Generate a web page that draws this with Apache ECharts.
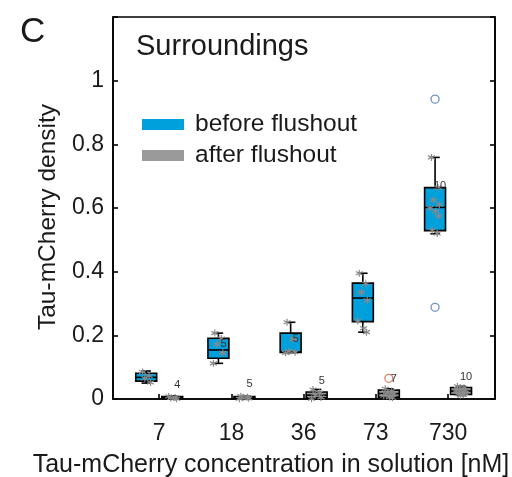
<!DOCTYPE html>
<html>
<head>
<meta charset="utf-8">
<script src="https://cdn.jsdelivr.net/npm/echarts@6/dist/echarts.min.js"></script>
<style>
  html, body { margin: 0; padding: 0; background: #fff; }
  #main { width: 512px; height: 477px; }
</style>
</head>
<body>
<div id="main"></div>
<script>
// Категории (концентрация, нМ)
const categories = ["7", "18", "36", "73", "730"];

// Статистика ящиков: [min, q1, median, q3, max]
const beforeBox = [
  [0.050, 0.056, 0.068, 0.081, 0.088],
  [0.112, 0.128, 0.154, 0.191, 0.207],
  [0.146, 0.146, 0.148, 0.207, 0.241],
  [0.210, 0.243, 0.317, 0.364, 0.395],
  [0.519, 0.529, 0.602, 0.664, 0.759],
];
const afterBox = [
  [0.000, 0.002, 0.005, 0.008, 0.010],
  [0.001, 0.002, 0.005, 0.008, 0.009],
  [0.000, 0.004, 0.012, 0.022, 0.030],
  [0.004, 0.006, 0.017, 0.028, 0.032],
  [0.012, 0.014, 0.025, 0.036, 0.040],
];

// Отдельные измерения
const beforePoints = [
  [0.085, 0.072, 0.065, 0.052],
  [0.207, 0.190, 0.172, 0.145, 0.112],
  [0.241, 0.188, 0.150, 0.147, 0.145],
  [0.395, 0.362, 0.335, 0.310, 0.245, 0.222, 0.210],
  [0.759, 0.664, 0.625, 0.610, 0.600, 0.590, 0.575, 0.530, 0.520],
];
const afterPoints = [
  [0.008, 0.005, 0.003, 0.001],
  [0.009, 0.006, 0.004, 0.002, 0.001],
  [0.030, 0.020, 0.012, 0.005, 0.001],
  [0.032, 0.025, 0.020, 0.015, 0.010, 0.006, 0.004],
  [0.040, 0.035, 0.030, 0.027, 0.025, 0.022, 0.018, 0.015, 0.013, 0.012],
];

// Выбросы
const beforeOutliers = [[], [], [], [], [0.942, 0.288]];
const afterOutliers = [[], [], [], [0.065], []];

// Подписи n
const beforeN = [null, 5, 5, null, 10];
const beforeNY = [null, 0.172, 0.19, null, 0.668];
const afterN = [4, 5, 5, 7, 10];
const afterNY = [0.044, 0.047, 0.057, 0.063, 0.069];

const yTicks = [0, 0.2, 0.4, 0.6, 0.8, 1];

const colors = {
  before: "#00a0dc",
  after: "#9a9a9a",
  point: "#8a8a8a",
  outBefore: "#4a78b8",
  outAfter: "#d0643a",
  text: "#1a1a1a",
};

const SIDE = 0.18;
const BOX_W = 0.29;
const FONT = "Liberation Sans, Arial, sans-serif";

const jit = [-0.05, 0.04, -0.02, 0.06, -0.07, 0.01, 0.05, -0.04, 0.03, -0.01];

function boxData(stats, side) {
  return stats.map((s, i) => [i + 1 + side, ...s]);
}
function pointData(pts, side) {
  let out = [];
  pts.forEach((arr, i) =>
    arr.forEach((v, j) => out.push([i + 1 + side + jit[j % jit.length], v]))
  );
  return out;
}
function outlierData(pts, side) {
  let out = [];
  pts.forEach((arr, i) => arr.forEach((v) => out.push([i + 1 + side, v])));
  return out;
}
function labelData(ns, ys, side) {
  let out = [];
  ns.forEach((n, i) => {
    if (n != null) out.push([i + 1 + side + 0.07, ys[i], n]);
  });
  return out;
}

function renderBox(fill) {
  return function (params, api) {
    const x = api.value(0);
    const pMin = api.coord([x, api.value(1)]);
    const pQ1 = api.coord([x, api.value(2)]);
    const pMed = api.coord([x, api.value(3)]);
    const pQ3 = api.coord([x, api.value(4)]);
    const pMax = api.coord([x, api.value(5)]);
    const half = api.size([BOX_W, 0])[0] / 2;
    const cap = half * 0.45;
    const cx = pQ1[0];
    const ln = { stroke: "#000", lineWidth: 1.6 };
    return {
      type: "group",
      children: [
        { type: "line", shape: { x1: cx, y1: pQ3[1], x2: cx, y2: pMax[1] }, style: ln },
        { type: "line", shape: { x1: cx, y1: pQ1[1], x2: cx, y2: pMin[1] }, style: ln },
        { type: "line", shape: { x1: cx - cap, y1: pMax[1], x2: cx + cap, y2: pMax[1] }, style: ln },
        { type: "line", shape: { x1: cx - cap, y1: pMin[1], x2: cx + cap, y2: pMin[1] }, style: ln },
        {
          type: "rect",
          shape: { x: cx - half, y: pQ3[1], width: half * 2, height: Math.max(pQ1[1] - pQ3[1], 1) },
          style: { fill: fill, stroke: "#000", lineWidth: 1.6 },
        },
        { type: "line", shape: { x1: cx - half, y1: pMed[1], x2: cx + half, y2: pMed[1] }, style: ln },
      ],
    };
  };
}

function renderLabel(params, api) {
  const p = api.coord([api.value(0), api.value(1)]);
  return {
    type: "text",
    x: p[0],
    y: p[1],
    style: {
      text: String(api.value(2)),
      fill: "#333",
      font: "11px " + FONT,
      align: "center",
      verticalAlign: "middle",
    },
  };
}

const star = "path://M5,0L5,10M0.7,2.5L9.3,7.5M0.7,7.5L9.3,2.5";

let myChart = echarts.init(document.getElementById("main"));

let option = {
  animation: false,
  textStyle: { fontFamily: FONT },
  title: [
    { text: "C", left: 15, top: 10, textStyle: { fontSize: 35, fontWeight: "normal", color: colors.text, fontFamily: FONT } },
    { text: "Surroundings", left: 131, top: 27, textStyle: { fontSize: 29, fontWeight: "normal", color: colors.text, fontFamily: FONT } },
  ],
  legend: {
    data: ["before flushout", "after flushout"],
    orient: "vertical",
    left: 137,
    top: 107,
    icon: "rect",
    itemWidth: 42,
    itemHeight: 11,
    itemGap: 6,
    textStyle: { fontSize: 24.5, color: colors.text, fontFamily: FONT, padding: [0, 0, 0, 6] },
  },
  grid: {
    left: 113,
    right: 17,
    top: 17,
    bottom: 78,
    outerBoundsMode: "none",
    show: true,
    borderColor: "#000",
    borderWidth: 1.6,
    backgroundColor: "transparent",
  },
  xAxis: {
    type: "value",
    min: 0.36,
    max: 5.65,
    splitLine: { show: false },
    axisLine: { lineStyle: { color: "#000", width: 1.6 } },
    axisTick: {
      inside: true,
      length: 5,
      customValues: [1, 2, 3, 4, 5],
      lineStyle: { color: "#000", width: 1.6 },
    },
    axisLabel: {
      customValues: [1, 2, 3, 4, 5],
      formatter: (v) => categories[Math.round(v) - 1],
      fontSize: 23,
      color: colors.text,
      margin: 23,
    },
    name: "Tau-mCherry concentration in solution [nM]",
    nameLocation: "middle",
    nameGap: 54,
    nameTextStyle: { fontSize: 25, color: colors.text, padding: [0, 66, 0, 0] },
  },
  yAxis: [
    {
      type: "value",
      min: 0,
      max: 1.2,
      interval: 0.2,
      splitLine: { show: false },
      axisLine: { show: true, lineStyle: { color: "#000", width: 1.6 } },
      axisTick: { inside: true, length: 5, lineStyle: { color: "#000", width: 1.6 } },
      axisLabel: {
        fontSize: 23,
        color: colors.text,
        margin: 9,
        formatter: (v) => (yTicks.some((t) => Math.abs(t - v) < 1e-6) ? String(+v.toFixed(1)) : ""),
      },
      name: "Tau-mCherry density",
      nameLocation: "middle",
      nameGap: 52,
      nameTextStyle: { fontSize: 24.5, color: colors.text, padding: [0, 18, 0, 0] },
    },
    {
      type: "value",
      position: "right",
      min: 0,
      max: 1.2,
      interval: 0.2,
      splitLine: { show: false },
      axisLine: { show: true, lineStyle: { color: "#000", width: 1.6 } },
      axisTick: { inside: true, length: 5, lineStyle: { color: "#000", width: 1.6 } },
      axisLabel: { show: false },
    },
  ],
  series: [
    {
      name: "before flushout",
      type: "custom",
      renderItem: renderBox(colors.before),
      itemStyle: { color: colors.before },
      data: boxData(beforeBox, -SIDE),
      z: 2,
      silent: true,
    },
    {
      name: "after flushout",
      type: "custom",
      renderItem: renderBox(colors.after),
      itemStyle: { color: colors.after },
      data: boxData(afterBox, SIDE),
      z: 2,
      silent: true,
    },
    {
      name: "points",
      type: "scatter",
      symbol: star,
      symbolSize: 7,
      itemStyle: { color: "transparent", borderColor: colors.point, borderWidth: 1.2, opacity: 1 },
      data: pointData(beforePoints, -SIDE).concat(pointData(afterPoints, SIDE)),
      z: 3,
      silent: true,
    },
    {
      name: "outliersBefore",
      type: "scatter",
      symbol: "circle",
      symbolSize: 8,
      itemStyle: { color: "transparent", borderColor: colors.outBefore, borderWidth: 1.3 },
      data: outlierData(beforeOutliers, -SIDE),
      z: 3,
      silent: true,
    },
    {
      name: "outliersAfter",
      type: "scatter",
      symbol: "circle",
      symbolSize: 8,
      itemStyle: { color: "transparent", borderColor: colors.outAfter, borderWidth: 1.3 },
      data: outlierData(afterOutliers, SIDE),
      z: 3,
      silent: true,
    },
    {
      name: "n",
      type: "custom",
      renderItem: renderLabel,
      data: labelData(beforeN, beforeNY, -SIDE).concat(labelData(afterN, afterNY, SIDE)),
      z: 4,
      silent: true,
    },
  ],
};

myChart.setOption(option);
</script>
</body>
</html>
